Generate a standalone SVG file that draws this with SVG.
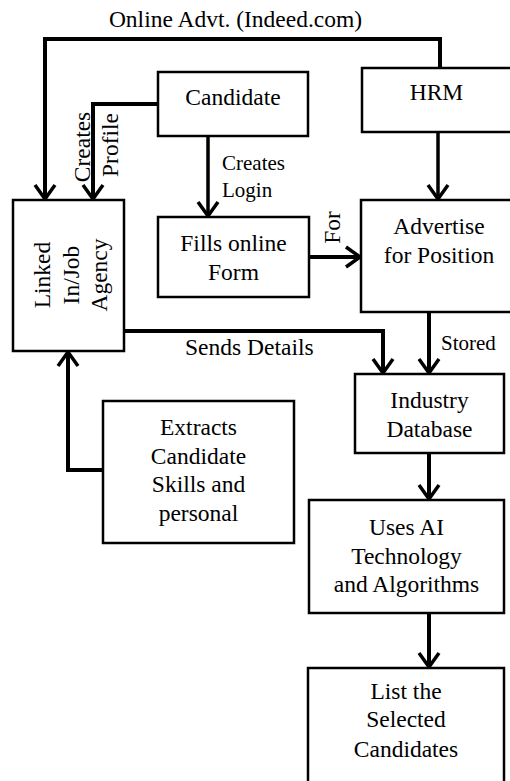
<svg xmlns="http://www.w3.org/2000/svg" width="510" height="781" viewBox="0 0 510 781">
<style>
.box{fill:#fff;stroke:#000;stroke-width:2.5}
text{font-family:'Liberation Serif','DejaVu Serif',serif;fill:#000}
.t{font-size:23.5px}
.s{font-size:21px}
.c{text-anchor:middle}
.ln{fill:none;stroke:#000;stroke-width:4}
.ar{fill:none;stroke:#000;stroke-width:3.5}
</style>
<defs>
<marker id="ah" markerUnits="userSpaceOnUse" markerWidth="30" markerHeight="30" refX="0" refY="0" orient="auto" overflow="visible">
<path d="M-14,-10 L0,0 L-14,10" fill="none" stroke="#000" stroke-width="3.5"/>
</marker>
</defs>
<rect width="510" height="781" fill="#fff"/>
<g id="connectors">
<path class="ln" d="M440,68 L440,39 L45,39 L45,199" marker-end="url(#ah)"/>
<path class="ln" d="M158,104 L93,104 L93,199" marker-end="url(#ah)"/>
<path class="ar" d="M208,136 L208,216" marker-end="url(#ah)"/>
<path class="ar" d="M438,132 L438,199" marker-end="url(#ah)"/>
<path class="ln" d="M309,257 L360,257" marker-end="url(#ah)"/>
<path class="ln" d="M124,331 L383,331 L383,373" marker-end="url(#ah)"/>
<path class="ln" d="M429,312 L429,373" marker-end="url(#ah)"/>
<path class="ln" d="M429,453 L429,499" marker-end="url(#ah)"/>
<path class="ln" d="M429,613 L429,667" marker-end="url(#ah)"/>
<path class="ln" d="M103,470 L68,470 L68,352" marker-end="url(#ah)"/>
<text class="t c" x="235.5" y="27" font-family="Liberation Serif, serif">Online Advt. (Indeed.com)</text>
<text class="t c" transform="translate(89.5,147) rotate(-90)">Creates</text>
<text class="t c" transform="translate(118,145) rotate(-90)">Profile</text>
<text class="s" x="222" y="170">Creates</text>
<text class="s" x="222" y="197">Login</text>
<text class="t c" transform="translate(340,227.5) rotate(-90)">For</text>
<text class="t" x="185" y="355">Sends Details</text>
<text class="s" x="441" y="350">Stored</text>
</g>
<g id="candidate">
<rect class="box" x="158" y="72" width="150" height="64"/>
<text class="t c" x="233" y="105">Candidate</text>
</g>
<g id="hrm">
<rect class="box" x="362" y="68" width="170" height="64"/>
<text class="t c" x="436.5" y="100">HRM</text>
</g>
<g id="linkedin">
<rect class="box" x="13" y="200" width="111" height="151"/>
<text class="t c" transform="translate(50,275) rotate(-90)">Linked</text>
<text class="t c" transform="translate(78.5,275) rotate(-90)">In/Job</text>
<text class="t c" transform="translate(107,275) rotate(-90)">Agency</text>
</g>
<g id="fills">
<rect class="box" x="158" y="217" width="151" height="80"/>
<text class="t c" x="233.5" y="250.5">Fills online</text>
<text class="t c" x="233.5" y="280">Form</text>
</g>
<g id="advertise">
<rect class="box" x="361" y="200" width="170" height="112"/>
<text class="t c" x="439" y="234">Advertise</text>
<text class="t c" x="439" y="263">for Position</text>
</g>
<g id="industry">
<rect class="box" x="355" y="374" width="149" height="79"/>
<text class="t c" x="429.5" y="408">Industry</text>
<text class="t c" x="429.5" y="437">Database</text>
</g>
<g id="extracts">
<rect class="box" x="103" y="401" width="191" height="142"/>
<text class="t c" x="198.5" y="435">Extracts</text>
<text class="t c" x="198.5" y="463.5">Candidate</text>
<text class="t c" x="198.5" y="492">Skills and</text>
<text class="t c" x="198.5" y="520.5">personal</text>
</g>
<g id="usesai">
<rect class="box" x="309" y="500" width="195" height="113"/>
<text class="t c" x="406.5" y="535">Uses AI</text>
<text class="t c" x="406.5" y="563.5">Technology</text>
<text class="t c" x="406.5" y="592">and Algorithms</text>
</g>
<g id="list">
<rect class="box" x="308" y="668" width="196" height="130"/>
<text class="t c" x="406" y="698.5">List the</text>
<text class="t c" x="406" y="727">Selected</text>
<text class="t c" x="406" y="756.5">Candidates</text>
</g>
</svg>
